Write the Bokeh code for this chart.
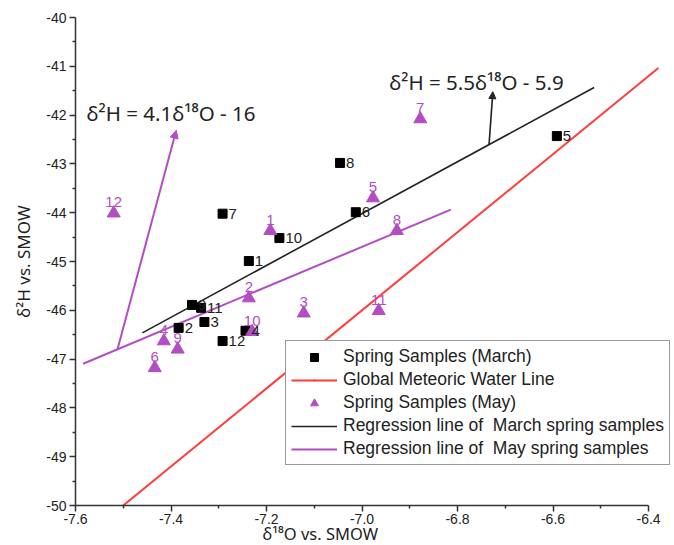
import numpy as np
from bokeh.plotting import figure
from bokeh.models import (Range1d, Label, Arrow, NormalHead, Legend, LegendItem, Title,
                          ColumnDataSource, FixedTicker, NumeralTickFormatter, LabelSet)
from bokeh.core.properties import value
from bokeh.embed import file_html
from bokeh.resources import INLINE

# Spring samples collected in March: sample number, d18O, d2H (per mil vs SMOW)
march_ids = ["1", "2", "3", "4", "5", "6", "7", "8", "9", "10", "11", "12"]
march_o18 = [-7.237, -7.384, -7.330, -7.244, -6.592, -7.013, -7.292, -7.046, -7.356, -7.173, -7.337, -7.292]
march_h2 = [-44.99, -46.36, -46.24, -46.42, -42.43, -43.99, -44.02, -42.98, -45.89, -44.52, -45.95, -46.63]

# Spring samples collected in May
may_ids = ["1", "2", "3", "4", "5", "6", "7", "8", "9", "10", "11", "12"]
may_o18 = [-7.192, -7.237, -7.122, -7.415, -6.977, -7.434, -6.878, -6.927, -7.386, -7.230, -6.965, -7.520]
may_h2 = [-44.37, -45.75, -46.06, -46.63, -43.70, -47.18, -42.08, -44.37, -46.80, -46.44, -46.01, -44.01]

# Lines: (slope, intercept) and the d18O span each one is drawn over
gmwl_coef = (8.0, 10.0)                                   # global meteoric water line
gmwl_span = [-7.5, -6.38]
march_fit_coef = tuple(np.polyfit(march_o18, march_h2, 1))  # least-squares fit, March
march_fit_span = [-7.46, -6.514]
may_fit_coef = (4.1, -16.0)                               # reported May fit
may_fit_span = [-7.584, -6.814]

x_ticks = [-7.6, -7.4, -7.2, -7.0, -6.8, -6.6, -6.4]
x_minor = [-7.5, -7.3, -7.1, -6.9, -6.7, -6.5]
y_ticks = [-50, -49, -48, -47, -46, -45, -44, -43, -42, -41, -40]
y_minor = [v + 0.5 for v in y_ticks[:-1]]

PURPLE = "#B24DC2"
RED = "#FF3B3B"
INK = "#222222"
FONT = "Liberation Sans"
SUP_FONT = "Noto Sans"


def line_points(coef, span):
    k, b = coef
    return span, [k * x + b for x in span]


p = figure(frame_width=595, frame_height=488, width=674, height=545,
           x_range=Range1d(-7.6, -6.354), y_range=Range1d(-50, -40),
           output_backend="svg", toolbar_location=None,
           min_border_left=75, min_border_right=4, min_border_top=17, min_border_bottom=40)
p.outline_line_color = None
p.grid.visible = False
p.background_fill_color = "white"
p.border_fill_color = "white"

for ax in (p.xaxis[0], p.yaxis[0]):
    ax.axis_line_color = "#333333"
    ax.axis_line_width = 1.5
    ax.major_tick_line_color = "#333333"
    ax.minor_tick_line_color = "#333333"
    ax.major_tick_line_width = 1.5
    ax.minor_tick_line_width = 1.5
    ax.major_tick_in = 0
    ax.major_tick_out = 6
    ax.minor_tick_in = 0
    ax.minor_tick_out = 3
    ax.major_label_text_font = FONT
    ax.major_label_text_font_size = "14px"
    ax.major_label_text_color = INK

p.xaxis.ticker = FixedTicker(ticks=x_ticks, minor_ticks=x_minor)
p.xaxis.formatter = NumeralTickFormatter(format="0.0")
p.xaxis.bounds = (-7.6, -6.4)
p.xaxis.major_label_standoff = 2

p.yaxis.ticker = FixedTicker(ticks=y_ticks, minor_ticks=y_minor)
p.yaxis.formatter = NumeralTickFormatter(format="0")
p.yaxis.major_label_standoff = 3
p.yaxis.axis_label = "δ²H vs. SMOW"
p.yaxis.axis_label_standoff = 8
p.yaxis.axis_label_text_font = SUP_FONT
p.yaxis.axis_label_text_font_size = "17px"
p.yaxis.axis_label_text_font_style = "normal"
p.yaxis.axis_label_text_color = INK

# x-axis title, set a little left of the axis centre
p.add_layout(Title(text="δ¹⁸O vs. SMOW", align="left", offset=187, standoff=-13,
                   text_font=SUP_FONT, text_font_size="16.5px", text_font_style="normal",
                   text_color=INK), "below")

# Lines
gx, gy = line_points(gmwl_coef, gmwl_span)
r_gmwl = p.line(gx, gy, line_color=RED, line_width=2)
r_gmwl_dot = p.scatter(gx, gy, marker="dot", size=6, line_color=RED, line_width=2)
mx, my = line_points(march_fit_coef, march_fit_span)
r_mfit = p.line(mx, my, line_color=INK, line_width=1.6)
yx, yy = line_points(may_fit_coef, may_fit_span)
r_yfit = p.line(yx, yy, line_color=PURPLE, line_width=2)

# Samples
src_march = ColumnDataSource(dict(x=march_o18, y=march_h2, id=march_ids))
src_may = ColumnDataSource(dict(x=may_o18, y=may_h2, id=may_ids))
r_march = p.scatter("x", "y", source=src_march, marker="square", size=9,
                    fill_color="black", line_color="black")
r_may = p.scatter("x", "y", source=src_may, marker="triangle", size=13,
                  fill_color=PURPLE, line_color=PURPLE)

p.add_layout(LabelSet(x="x", y="y", text="id", source=src_march, x_offset=6, y_offset=0,
                      text_font=value(FONT), text_font_size=value("15px"), text_color=INK,
                      text_baseline="middle", text_align="left"))
p.add_layout(LabelSet(x="x", y="y", text="id", source=src_may, x_offset=0, y_offset=6,
                      text_font=value(FONT), text_font_size=value("15px"), text_color=PURPLE,
                      text_baseline="bottom", text_align="center"))

# Equation annotations with pointer arrows
k, b = may_fit_coef
tail_x = -7.512
p.add_layout(Arrow(x_start=tail_x, y_start=k * tail_x + b, x_end=-7.389, y_end=-42.31,
                   line_color=PURPLE, line_width=2,
                   end=NormalHead(size=8, fill_color=PURPLE, line_color=PURPLE)))
p.add_layout(Label(x=-7.577, y=-41.95, text="δ²H = 4.1δ¹⁸O - 16", text_font=SUP_FONT,
                   text_font_size="20.5px", text_color=INK, text_baseline="middle"))

k, b = march_fit_coef
tail_x = -6.734
p.add_layout(Arrow(x_start=tail_x, y_start=k * tail_x + b, x_end=-6.726, y_end=-41.52,
                   line_color=INK, line_width=1.6,
                   end=NormalHead(size=7, fill_color=INK, line_color=INK)))
p.add_layout(Label(x=-6.943, y=-41.33, text="δ²H = 5.5δ¹⁸O - 5.9", text_font=SUP_FONT,
                   text_font_size="20.5px", text_color=INK, text_baseline="middle"))

legend = Legend(items=[
    LegendItem(label="Spring Samples (March)", renderers=[r_march]),
    LegendItem(label="Global Meteoric Water Line", renderers=[r_gmwl, r_gmwl_dot]),
    LegendItem(label="Spring Samples (May)", renderers=[r_may]),
    LegendItem(label="Regression line of  March spring samples", renderers=[r_mfit]),
    LegendItem(label="Regression line of  May spring samples", renderers=[r_yfit]),
], location=(210, 40))
legend.label_text_font = FONT
legend.label_text_font_size = "17.5px"
legend.label_text_color = INK
legend.border_line_color = "#333333"
legend.border_line_width = 1.5
legend.background_fill_alpha = 1.0
legend.glyph_width = 46
legend.glyph_height = 20
legend.label_height = 20
legend.spacing = 2
legend.padding = 5
legend.margin = 0
legend.label_standoff = 6
p.add_layout(legend)

open("out.html", "w").write(file_html(p, INLINE))
